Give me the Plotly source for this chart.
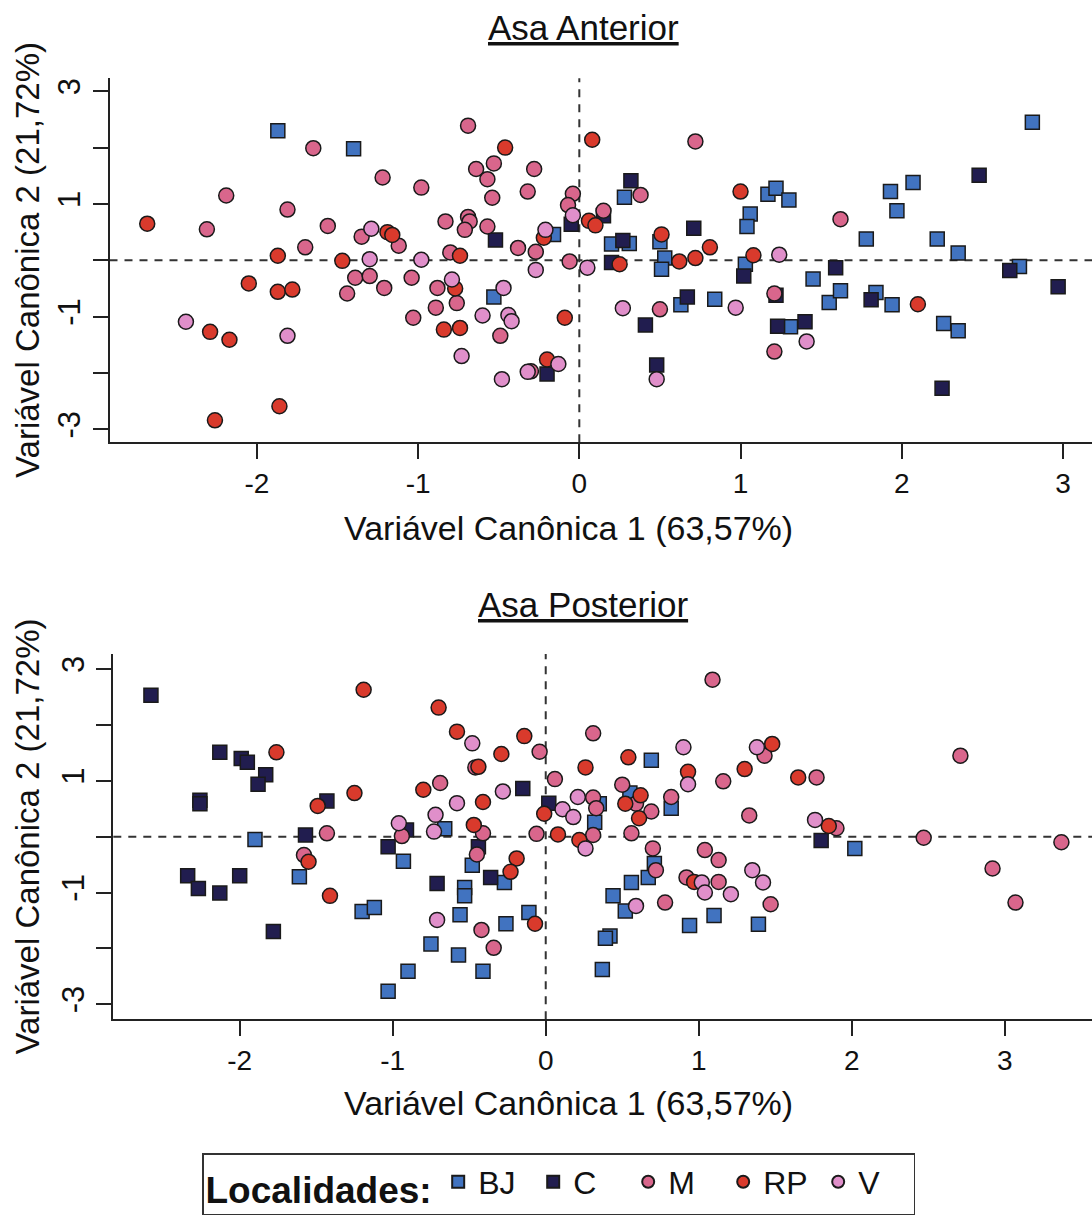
import plotly.graph_objects as go

# ---------------- DATA ----------------
# Asa Anterior (top panel)
ant_bj_x = [-1.87, -1.40, -0.16, -0.53, 0.28, 0.20, 0.31, 0.50, 0.53, 0.51, 1.03, 1.17, 1.22, 1.30, 1.06, 1.04, 1.45, 0.63, 0.84, 1.55, 1.62, 1.31, 2.81, 2.07, 1.93, 1.97, 1.78, 2.22, 2.35, 2.73, 1.84, 1.94, 2.26, 2.35]
ant_bj_y = [2.30, 1.98, 0.46, -0.65, 1.12, 0.29, 0.30, 0.33, 0.04, -0.16, -0.07, 1.17, 1.28, 1.07, 0.82, 0.60, -0.33, -0.79, -0.69, -0.75, -0.54, -1.18, 2.45, 1.38, 1.22, 0.88, 0.38, 0.38, 0.13, -0.11, -0.57, -0.79, -1.12, -1.25]

ant_c_x = [-0.05, -0.52, -0.20, 0.15, 0.32, 0.71, 0.27, 0.20, 1.02, 1.59, 0.67, 0.41, 1.23, 1.40, 0.48, 1.22, 2.48, 2.67, 2.97, 1.81, 2.25]
ant_c_y = [0.64, 0.36, -2.02, 0.79, 1.41, 0.57, 0.35, -0.04, -0.28, -0.13, -0.65, -1.15, -1.17, -1.09, -1.86, -0.62, 1.51, -0.18, -0.47, -0.70, -2.27]

ant_m_x = [-1.65, -2.19, -1.81, -2.31, -1.56, -1.35, -1.70, -1.39, -1.44, -0.69, -0.53, -0.64, -0.57, -0.28, -1.22, -0.98, -0.54, -0.32, -0.04, -0.07, -0.83, -0.69, -0.68, -0.71, -0.57, -1.12, -0.80, -0.38, -0.27, -0.06, -1.30, -1.21, -1.04, -0.88, -0.76, -0.89, -1.03, -0.49, -0.30, 0.72, 0.38, 0.15, 0.50, 1.21, 1.21, 1.62]
ant_m_y = [1.99, 1.15, 0.90, 0.55, 0.61, 0.42, 0.23, -0.31, -0.59, 2.39, 1.72, 1.62, 1.44, 1.62, 1.47, 1.29, 1.11, 1.22, 1.18, 0.98, 0.69, 0.77, 0.69, 0.54, 0.60, 0.26, 0.14, 0.22, 0.15, -0.02, -0.28, -0.49, -0.31, -0.49, -0.76, -0.84, -1.02, -1.34, -1.97, 2.11, 1.16, 0.88, -0.87, -0.59, -1.62, 0.73]

ant_rp_x = [-2.68, -1.87, -1.47, -2.05, -1.87, -1.78, -2.29, -2.17, -1.86, -2.26, -0.46, -1.19, -1.16, -0.74, -0.22, 0.06, 0.10, -0.77, -0.84, -0.74, -0.09, -0.20, 0.08, 1.00, 0.51, 0.81, 0.25, 0.62, 0.72, 1.08, 2.10]
ant_rp_y = [0.65, 0.08, -0.01, -0.41, -0.56, -0.52, -1.27, -1.41, -2.59, -2.84, 2.00, 0.50, 0.45, 0.08, 0.40, 0.70, 0.62, -0.50, -1.23, -1.20, -1.02, -1.76, 2.14, 1.22, 0.46, 0.23, -0.07, -0.02, 0.04, 0.09, -0.78]

ant_v_x = [-2.44, -1.81, -0.04, -1.29, -1.30, -0.98, -0.21, -0.27, 0.05, -0.79, -0.47, -0.60, -0.44, -0.42, -0.73, -0.13, -0.32, -0.48, 1.24, 0.27, 0.97, 1.41, 0.48]
ant_v_y = [-1.09, -1.34, 0.80, 0.56, 0.02, 0.01, 0.54, -0.17, -0.13, -0.34, -0.49, -0.98, -0.97, -1.08, -1.70, -1.84, -1.98, -2.11, 0.10, -0.85, -0.84, -1.44, -2.11]

# Asa Posterior (bottom panel)
pos_bj_x = [-1.90, -1.61, -1.20, -1.12, -0.93, -0.66, -0.48, -0.27, -0.53, -0.53, -0.56, -0.26, -0.11, -0.75, -0.57, -0.90, -0.41, -1.03, 0.32, 0.69, 0.55, 0.35, 0.82, 0.71, 0.67, 0.56, 0.44, 0.52, 0.42, 0.39, 0.37, 0.94, 1.10, 1.39, 2.02]
pos_bj_y = [-0.05, -0.72, -1.34, -1.27, -0.44, 0.14, -0.51, -0.82, -0.91, -1.06, -1.40, -1.56, -1.36, -1.92, -2.12, -2.41, -2.41, -2.77, 0.26, 1.37, 0.78, 0.59, 0.51, -0.48, -0.73, -0.82, -1.06, -1.33, -1.78, -1.82, -2.38, -1.59, -1.41, -1.57, -0.21]

pos_c_x = [-2.58, -2.13, -1.99, -1.95, -1.83, -1.88, -2.26, -2.26, -1.43, -1.57, -2.34, -2.27, -2.13, -2.00, -1.78, -0.15, 0.02, -0.91, -1.03, -0.44, -0.36, -0.71, 1.80]
pos_c_y = [2.53, 1.51, 1.40, 1.33, 1.11, 0.94, 0.65, 0.59, 0.64, 0.03, -0.70, -0.93, -1.01, -0.70, -1.70, 0.86, 0.60, 0.12, -0.18, -0.18, -0.73, -0.84, -0.07]

pos_m_x = [-1.43, -1.58, -0.04, -0.46, -0.69, 0.06, 0.31, 0.31, 0.31, -0.06, -0.94, -0.41, -0.45, -0.42, -0.34, 1.09, 1.43, 1.16, 1.77, 0.50, 0.33, 0.59, 0.69, 0.82, 0.56, 1.33, 1.90, 0.70, 0.72, 0.78, 1.04, 1.13, 0.92, 1.13, 1.47, 2.71, 2.47, 2.92, 3.07, 3.37]
pos_m_y = [0.06, -0.33, 1.52, 1.24, 0.96, 1.03, 1.85, 0.70, 0.03, 0.05, 0.01, 0.06, -0.32, -1.67, -1.99, 2.81, 1.45, 0.99, 1.06, 0.93, 0.51, 0.59, 0.45, 0.71, 0.06, 0.38, 0.15, -0.21, -0.60, -1.18, -0.24, -0.42, -0.73, -0.81, -1.21, 1.45, -0.02, -0.57, -1.18, -0.10]

pos_rp_x = [-1.76, -1.49, -1.25, -1.55, -1.41, -1.19, -0.70, -0.58, -0.14, -0.29, -0.44, -0.80, -0.41, 0.26, -0.01, 0.22, 0.08, -0.47, -0.19, -0.23, -0.07, 0.54, 1.48, 1.30, 0.93, 1.65, 0.62, 0.52, 0.61, 1.85, 0.97]
pos_rp_y = [1.51, 0.55, 0.78, -0.45, -1.06, 2.63, 2.31, 1.88, 1.80, 1.48, 1.25, 0.84, 0.62, 1.24, 0.41, -0.06, 0.04, 0.21, -0.39, -0.63, -1.56, 1.42, 1.66, 1.21, 1.16, 1.06, 0.74, 0.59, 0.33, 0.19, -0.81]

pos_v_x = [-0.48, -0.58, -0.28, 0.11, 0.18, 0.21, 0.26, -0.96, -0.72, -0.73, -0.71, 0.90, 1.38, 0.93, 1.76, 0.59, 1.02, 1.04, 1.21, 1.35, 1.42]
pos_v_y = [1.67, 0.60, 0.81, 0.49, 0.35, 0.71, -0.21, 0.24, 0.39, 0.09, -1.49, 1.60, 1.60, 0.94, 0.30, -1.24, -0.82, -1.00, -1.03, -0.60, -0.82]

groups = ["BJ", "C", "M", "RP", "V"]
y_ticks = [-3, -2, -1, 0, 1, 2, 3]
y_ticktext = ["-3", "", "-1", "", "1", "", "3"]
x_ticks = [-2, -1, 0, 1, 2, 3]
x_ticktext = ["-2", "-1", "0", "1", "2", "3"]

title_top = "Asa Anterior"
title_bottom = "Asa Posterior"
x_title = "Variável Canônica 1 (63,57%)"
y_title = "Variável Canônica 2 (21,72%)"

# ---------------- STYLE ----------------
W, H = 1092, 1223
FONT = "Liberation Sans, Arial, sans-serif"
colors = {"BJ": "#4173C0", "C": "#211D4F", "M": "#D9668C", "RP": "#D93A2C", "V": "#E08FCA"}
symbols = {"BJ": "square", "C": "square", "M": "circle", "RP": "circle", "V": "circle"}
sizes = {"BJ": 14, "C": 14, "M": 15, "RP": 15, "V": 15}

ant = {"BJ": (ant_bj_x, ant_bj_y), "C": (ant_c_x, ant_c_y), "M": (ant_m_x, ant_m_y),
       "RP": (ant_rp_x, ant_rp_y), "V": (ant_v_x, ant_v_y)}
pos = {"BJ": (pos_bj_x, pos_bj_y), "C": (pos_c_x, pos_c_y), "M": (pos_m_x, pos_m_y),
       "RP": (pos_rp_x, pos_rp_y), "V": (pos_v_x, pos_v_y)}

def px_x(p):
    return p / W

def px_y(p):
    return 1 - p / H

fig = go.Figure()

for panel, data, xa, ya, show in [(1, ant, "x", "y", True), (2, pos, "x2", "y2", False)]:
    for g in groups:
        xs, ys = data[g]
        fig.add_trace(go.Scatter(
            x=xs, y=ys, mode="markers", name=g, xaxis=xa, yaxis=ya,
            legendgroup=g, showlegend=show,
            marker=dict(symbol=symbols[g], size=sizes[g], color=colors[g],
                        line=dict(color="#1a1a1a", width=1.5)),
        ))

axis_common = dict(showline=True, linecolor="#222", linewidth=2, mirror=False,
                   ticks="outside", ticklen=15, tickwidth=2, tickcolor="#222",
                   showgrid=False, zeroline=False)
xfont = dict(family=FONT, size=28, color="#111")
yfont = dict(family=FONT, size=31, color="#111")

fig.update_layout(
    width=W, height=H, margin=dict(l=0, r=0, t=0, b=0),
    paper_bgcolor="white", plot_bgcolor="white",
    font=dict(family=FONT, color="#111"),
    xaxis=dict(domain=[px_x(109.5), 1.0], range=[-2.914, 3.18], anchor="y",
               tickvals=x_ticks, ticktext=x_ticktext, tickfont=xfont, **axis_common),
    yaxis=dict(domain=[px_y(442.3), px_y(78.3)], range=[-3.23, 3.23], anchor="x",
               tickvals=y_ticks, ticktext=y_ticktext, tickangle=-90, tickfont=yfont,
               **axis_common),
    xaxis2=dict(domain=[px_x(113.3), 1.0], range=[-2.826, 3.57], anchor="y2",
                tickvals=x_ticks, ticktext=x_ticktext, tickfont=xfont, **axis_common),
    yaxis2=dict(domain=[px_y(1019.3), px_y(654)], range=[-3.27, 3.27], anchor="x2",
                tickvals=y_ticks, ticktext=y_ticktext, tickangle=-90, tickfont=yfont,
                **axis_common),
    legend=dict(orientation="h", x=px_x(202), y=px_y(1153), xanchor="left", yanchor="top",
                bordercolor="#333", borderwidth=1.5, bgcolor="white",
                itemsizing="constant", entrywidth=50, entrywidthmode="pixels",
                title=dict(text="<b>Localidades:</b>", side="left",
                           font=dict(family=FONT, size=37, color="#111")),
                font=dict(family=FONT, size=32, color="#111")),
)

# dashed reference lines at 0
for xr, yr in [("x", "y"), ("x2", "y2")]:
    fig.add_shape(type="line", xref=xr, yref=yr + " domain", x0=0, x1=0, y0=0, y1=1,
                  line=dict(color="#333", width=2, dash="8px,7px"), layer="below")
    fig.add_shape(type="line", xref=xr + " domain", yref=yr, x0=0, x1=1, y0=0, y1=0,
                  line=dict(color="#333", width=2, dash="8px,7px"), layer="below")

ann = [
    dict(text="<u>" + title_top + "</u>", x=px_x(583), y=px_y(28)),
    dict(text="<u>" + title_bottom + "</u>", x=px_x(583), y=px_y(605)),
]
for a in ann:
    fig.add_annotation(xref="paper", yref="paper", showarrow=False, xanchor="center",
                       yanchor="middle", font=dict(family=FONT, size=35, color="#111"), **a)

for yc in [528, 1103]:
    fig.add_annotation(text=x_title, xref="paper", yref="paper", x=px_x(568), y=px_y(yc),
                       showarrow=False, xanchor="center", yanchor="middle",
                       font=dict(family=FONT, size=34, color="#111"))
for yc in [260, 836.5]:
    fig.add_annotation(text=y_title, xref="paper", yref="paper", x=px_x(27), y=px_y(yc),
                       showarrow=False, xanchor="center", yanchor="middle", textangle=-90,
                       font=dict(family=FONT, size=33, color="#111"))

fig.write_html("out.html")
